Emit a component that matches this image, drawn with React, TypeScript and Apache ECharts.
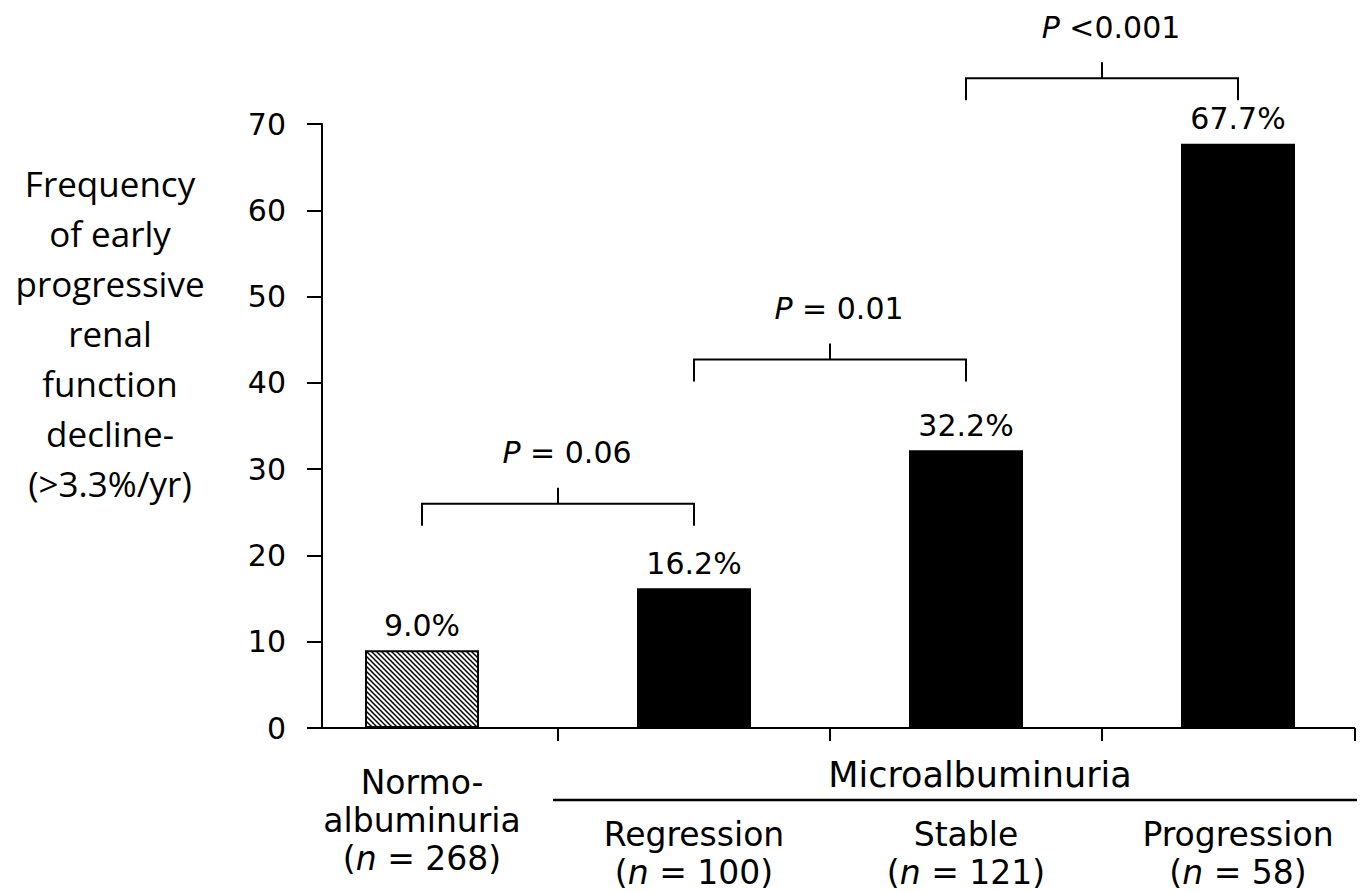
import React, { useEffect, useRef } from "react";
import * as echarts from "echarts";

// ---- data ----
const categories = ["Normo-albuminuria", "Regression", "Stable", "Progression"];
const categoryLines = [["Normo-", "albuminuria"], ["Regression"], ["Stable"], ["Progression"]];
const groupSizes = [268, 100, 121, 58];
const frequencies = [9.0, 16.2, 32.2, 67.7];
const barFills = ["hatched", "solid", "solid", "solid"];
const yMin = 0;
const yMax = 70;
const yInterval = 10;
const comparisonFrom = [0, 1, 2];
const comparisonTo = [1, 2, 3];
const comparisonLevel = [26.0, 42.7, 75.3];
const comparisonLabels = ["0.06", "0.01", "0.001"];
const comparisonOps = ["=", "=", "<"];
const groupLabel = "Microalbuminuria";
const yAxisTitle = ["Frequency", "of early", "progressive", "renal", "function", "decline-", "(>3.3%/yr)"];

// ---- style ----
const FONT = "'DejaVu Sans', 'Liberation Sans', Arial, sans-serif";
const TITLE_FONT = "'Open Sans', 'Noto Sans', sans-serif";
const GRID_LEFT = 286;
const AXIS_SHIFT = 36;
const AXIS_RIGHT = 1355;

function makeHatch(): HTMLCanvasElement {
  const s = 5;
  const c = document.createElement("canvas");
  c.width = s;
  c.height = s;
  const g = c.getContext("2d")!;
  g.fillStyle = "#fff";
  g.fillRect(0, 0, s, s);
  g.strokeStyle = "#000";
  g.lineWidth = 1.5;
  g.beginPath();
  g.moveTo(-1, -1);
  g.lineTo(s + 1, s + 1);
  g.moveTo(-1, s - 1);
  g.lineTo(1, s + 1);
  g.moveTo(s - 1, -1);
  g.lineTo(s + 1, 1);
  g.stroke();
  return c;
}

export default function App() {
  const ref = useRef<HTMLDivElement>(null);
  useEffect(() => {
    const chart = echarts.init(ref.current!, null, { renderer: "svg" });
    const hatch = makeHatch();
    const tok = { fontFamily: FONT, fontSize: 33, lineHeight: 38, color: "#000" };
    const rich: any = {
      t: { ...tok },
      i: { ...tok, fontStyle: "italic" },
      sp: { fontSize: 10, lineHeight: 52, height: 52 },
    };
    chart.setOption({
      animation: false,
      backgroundColor: "#fff",
      grid: {
        left: GRID_LEFT,
        top: 124,
        width: 1088,
        height: 604,
        containLabel: false,
        outerBoundsMode: "none",
      },
      xAxis: {
        type: "category",
        data: categories,
        axisLine: { show: false },
        axisTick: { show: false },
        splitLine: { show: false },
        axisLabel: {
          interval: 0,
          margin: 35,
          rich,
          formatter: (_v: string, idx: number) => {
            const lines = categoryLines[idx].map((l) => `{t|${l}}`);
            const nLine = `{t|(}{i|n}{t| = ${groupSizes[idx]})}`;
            const body = [...lines, nLine].join("\n");
            return lines.length > 1 ? body : `{sp| }\n${body}`;
          },
        },
      },
      yAxis: {
        type: "value",
        min: yMin,
        max: yMax,
        interval: yInterval,
        offset: -AXIS_SHIFT,
        axisLine: { show: true, lineStyle: { color: "#000", width: 2 } },
        axisTick: { show: true, inside: false, length: 15, lineStyle: { color: "#000", width: 2 } },
        splitLine: { show: false },
        axisLabel: { margin: 36, fontFamily: FONT, fontSize: 30, color: "#000" },
        name: yAxisTitle.join("\n") + "\n{sp| }",
        nameLocation: "middle",
        nameRotate: 0,
        nameGap: 212,
        nameMoveOverlap: false,
        nameTextStyle: {
          fontFamily: TITLE_FONT,
          fontSize: 35,
          lineHeight: 50,
          color: "#000",
          align: "center",
          verticalAlign: "middle",
          rich: { sp: { fontSize: 10, lineHeight: 186, height: 186 } },
        },
      },
      series: [
        {
          type: "bar",
          barWidth: 114,
          data: frequencies.map((v, i) =>
            barFills[i] === "hatched"
              ? {
                  value: v,
                  itemStyle: {
                    color: { image: hatch, repeat: "repeat" },
                    borderColor: "#000",
                    borderWidth: 2,
                  },
                }
              : { value: v, itemStyle: { color: "#000" } }
          ),
          label: {
            show: true,
            position: "top",
            distance: 10,
            fontFamily: FONT,
            fontSize: 30,
            color: "#000",
            formatter: (p: any) => `${Number(p.value).toFixed(1)}%`,
          },
        },
      ],
    });

    const pt = (i: number, v: number) => chart.convertToPixel({ gridIndex: 0 }, [i, v]) as number[];
    const y0 = pt(0, 0)[1];
    const centers = categories.map((_c, i) => pt(i, 0)[0]);
    const axisX = GRID_LEFT + AXIS_SHIFT;
    const ticks = [
      ...centers.slice(1).map((c, i) => (c + centers[i]) / 2),
      AXIS_RIGHT,
    ];
    const line = (pts: number[][], w = 2) => ({
      type: "polyline",
      z: 100,
      shape: { points: pts },
      style: { stroke: "#000", lineWidth: w, fill: null },
    });
    const graphics: any[] = [];
    graphics.push(line([[axisX - 1, y0], [AXIS_RIGHT, y0]]));
    ticks.forEach((tx) => graphics.push(line([[tx, y0], [tx, y0 + 13]])));
    // group label
    graphics.push({
      type: "text",
      z: 100,
      x: 980,
      y: y0 + 47,
      style: {
        text: groupLabel,
        fontFamily: FONT,
        fontSize: 35,
        fill: "#000",
        align: "center",
        verticalAlign: "middle",
      },
    });
    graphics.push(line([[ticks[0] - 5, y0 + 72], [AXIS_RIGHT + 2, y0 + 72]], 2.5));
    // significance brackets
    comparisonFrom.forEach((f, k) => {
      const t = comparisonTo[k];
      const yh = pt(0, comparisonLevel[k])[1];
      const x1 = centers[f];
      const x2 = centers[t];
      const xm = (x1 + x2) / 2;
      graphics.push(line([[x1, yh + 22], [x1, yh], [x2, yh], [x2, yh + 22]]));
      graphics.push(line([[xm, yh], [xm, yh - 16]]));
      const op = comparisonOps[k];
      graphics.push({
        type: "text",
        z: 100,
        x: xm + 9,
        y: yh - 51,
        style: {
          text: op === "<" ? `{i|P} <${comparisonLabels[k]}` : `{i|P} ${op} ${comparisonLabels[k]}`,
          fontFamily: FONT,
          fontSize: 30,
          fill: "#000",
          align: "center",
          verticalAlign: "middle",
          rich: {
            i: { fontFamily: FONT, fontSize: 30, fontStyle: "italic", fill: "#000" },
          },
        },
      });
    });
    chart.setOption({ graphic: graphics });
    return () => chart.dispose();
  }, []);
  return (
    <div
      ref={ref}
      style={{ position: "absolute", left: 0, top: 0, width: 1367, height: 892, background: "#fff" }}
    />
  );
}
